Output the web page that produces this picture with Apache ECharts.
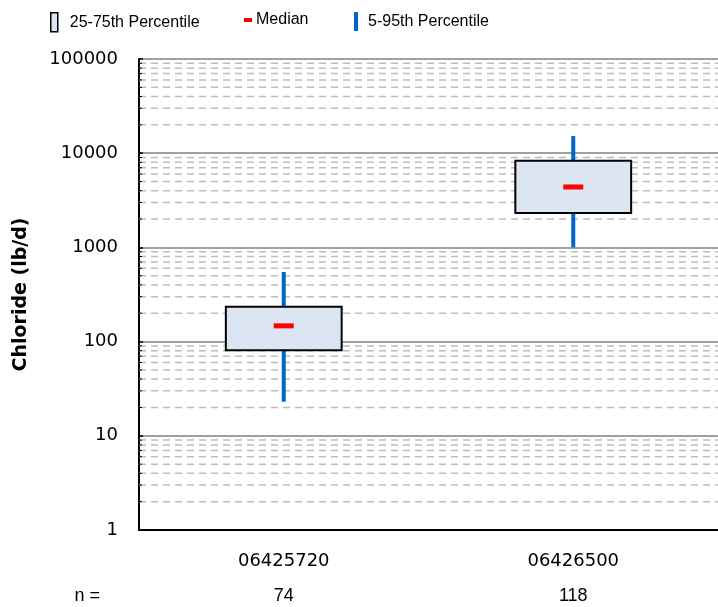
<!DOCTYPE html>
<html>
<head>
<meta charset="utf-8">
<script src="https://cdn.jsdelivr.net/npm/echarts@6/dist/echarts.min.js"></script>
<style>
html,body{margin:0;padding:0;background:#fff;}
#chart{width:718px;height:607px;}
</style>
</head>
<body>
<div id="chart"></div>
<script>
// ---- data ----
var categories = ['06425720', '06426500'];
var counts = ['74', '118'];
var p5 = [23, 1000];
var p25 = [81, 2320];
var median = [147, 4380];
var p75 = [234, 8320];
var p95 = [548, 15200];
var minorValues = [2, 3, 4, 5, 6, 7, 8, 9,
  20, 30, 40, 50, 60, 70, 80, 90,
  200, 300, 400, 500, 600, 700, 800, 900,
  2000, 3000, 4000, 5000, 6000, 7000, 8000, 9000,
  20000, 30000, 40000, 50000, 60000, 70000, 80000, 90000];

var FONT = 'Liberation Sans, Arial, sans-serif';
var AXFONT = 'DejaVu Sans, sans-serif';
var chart = echarts.init(document.getElementById('chart'), null, {renderer: 'canvas'});

var whiskerData = categories.map(function (c, i) { return [i, p5[i], p95[i]]; });
var boxData = categories.map(function (c, i) { return [i, p25[i], p75[i]]; });
var medData = categories.map(function (c, i) { return [i, median[i]]; });
var minorData = minorValues.map(function (v) { return [0, v]; });

var option = {
  animation: false,
  backgroundColor: '#fff',
  textStyle: {fontFamily: FONT},
  legend: [
    {
      data: ['25-75th Percentile'], left: 50, top: 12, padding: 0, icon: 'rect',
      itemWidth: 7, itemHeight: 19,
      itemStyle: {color: '#DCE6F2', borderColor: '#000', borderWidth: 1.5},
      textStyle: {fontSize: 16, color: '#000', fontFamily: FONT, padding: [2, 0, 0, 7]},
      selectedMode: false
    },
    {
      data: ['Median'], left: 244, top: 12, padding: 0, icon: 'rect',
      itemWidth: 8, itemHeight: 4,
      itemStyle: {color: '#FF0000', borderWidth: 0},
      textStyle: {fontSize: 16, color: '#000', fontFamily: FONT, padding: [2, 0, 0, -1]},
      selectedMode: false
    },
    {
      data: ['5-95th Percentile'], left: 354, top: 12, padding: 0, icon: 'rect',
      itemWidth: 4, itemHeight: 19,
      itemStyle: {color: '#0066CC', borderWidth: 0},
      textStyle: {fontSize: 16, color: '#000', fontFamily: FONT, padding: [2, 0, 0, 5]},
      selectedMode: false
    }
  ],
  grid: {left: 139, top: 59, bottom: 77, right: -6},
  xAxis: [
    {
      type: 'category', data: categories, position: 'bottom',
      axisLine: {lineStyle: {color: '#000', width: 2}},
      axisTick: {show: false},
      axisLabel: {fontSize: 18, color: '#000', margin: 22, fontFamily: AXFONT},
      splitLine: {show: false}
    },
    {
      type: 'category', data: counts, position: 'bottom', offset: 57,
      axisLine: {show: false}, axisTick: {show: false},
      axisLabel: {fontSize: 18, color: '#000', margin: 0, fontFamily: FONT},
      name: 'n =', nameLocation: 'start', nameGap: 39,
      nameTextStyle: {fontSize: 18, color: '#000', fontFamily: FONT, verticalAlign: 'top'}
    }
  ],
  yAxis: {
    type: 'log', logBase: 10, min: 1, max: 100000,
    name: 'Chloride (lb/d)', nameLocation: 'middle', nameGap: 108,
    nameTextStyle: {fontSize: 19, fontWeight: 'bold', color: '#000', fontFamily: AXFONT},
    axisLine: {show: true, lineStyle: {color: '#000', width: 2}},
    axisTick: {show: true, inside: true, length: 4, lineStyle: {color: '#000', width: 1.5}},
    axisLabel: {fontSize: 18, color: '#000', margin: 21, fontFamily: AXFONT,
      formatter: function (v) { return String(Math.round(v)); }},
    splitLine: {show: true, lineStyle: {color: '#808080', width: 1.5}}
  },
  series: [
    {
      name: 'minor', type: 'custom', silent: true, z: 1,
      data: minorData,
      encode: {x: 0, y: 1},
      renderItem: function (params, api) {
        var y = api.coord([0, api.value(1)])[1];
        var cs = params.coordSys;
        return {
          type: 'group',
          children: [
            {type: 'line', shape: {x1: cs.x, y1: y, x2: cs.x + cs.width, y2: y},
              style: {stroke: '#BDBDBD', lineWidth: 1.5, lineDash: [7, 5]}},
            {type: 'line', shape: {x1: cs.x, y1: y, x2: cs.x + 3, y2: y},
              style: {stroke: '#000', lineWidth: 1}}
          ]
        };
      }
    },
    {
      name: '5-95th Percentile', type: 'custom', z: 3,
      itemStyle: {color: '#0066CC'},
      data: whiskerData,
      encode: {x: 0, y: [1, 2]},
      renderItem: function (params, api) {
        var lo = api.coord([api.value(0), api.value(1)]);
        var hi = api.coord([api.value(0), api.value(2)]);
        return {type: 'line', shape: {x1: lo[0], y1: lo[1], x2: hi[0], y2: hi[1]},
          style: {stroke: '#0066CC', lineWidth: 4}};
      }
    },
    {
      name: '25-75th Percentile', type: 'custom', z: 4,
      itemStyle: {color: '#DCE6F2'},
      data: boxData,
      encode: {x: 0, y: [1, 2]},
      renderItem: function (params, api) {
        var lo = api.coord([api.value(0), api.value(1)]);
        var hi = api.coord([api.value(0), api.value(2)]);
        var w = api.size([1, 0])[0] * 0.4;
        return {type: 'rect', shape: {x: lo[0] - w / 2, y: hi[1], width: w, height: lo[1] - hi[1]},
          style: {fill: '#DCE6F2', stroke: '#000', lineWidth: 2}};
      }
    },
    {
      name: 'Median', type: 'custom', z: 5,
      itemStyle: {color: '#FF0000'},
      data: medData,
      encode: {x: 0, y: 1},
      renderItem: function (params, api) {
        var p = api.coord([api.value(0), api.value(1)]);
        return {type: 'rect', shape: {x: p[0] - 10, y: p[1] - 2.5, width: 20, height: 5},
          style: {fill: '#FF0000'}};
      }
    }
  ]
};
chart.setOption(option);
</script>
</body>
</html>
